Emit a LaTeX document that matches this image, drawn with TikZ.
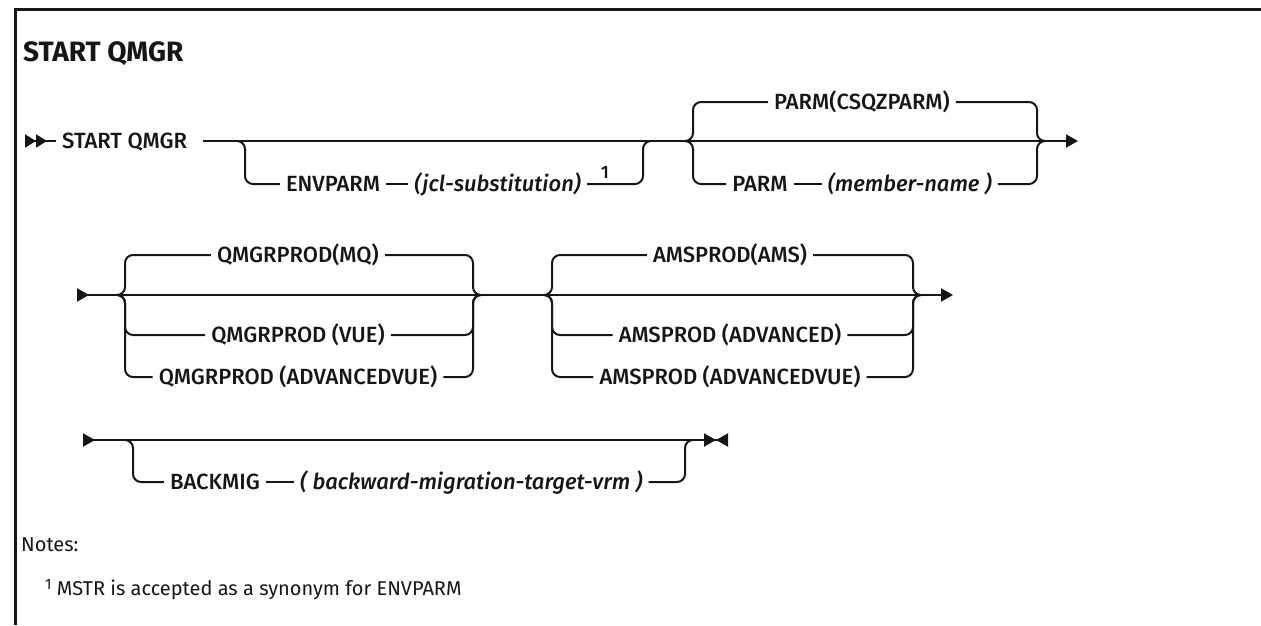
\documentclass[tikz,border=0pt]{standalone}
\usepackage{fontspec}
\setmainfont{Fira Sans}
\newfontfamily\railfont{Fira Sans Medium}[ItalicFont={Fira Sans Medium Italic}]
\newfontfamily\titlefont{Fira Sans Bold}
\usetikzlibrary{positioning, arrows.meta}
\definecolor{railInk}{RGB}{22, 22, 22}

\begin{document}
\begin{tikzpicture}[x=1pt, y=-1pt,
  rail/.style={draw=railInk, line width=2pt, rounded corners=8pt},
  kw/.style={font=\railfont\fontsize{22}{26}\selectfont, text=railInk,
    inner xsep=6pt, inner ysep=0pt, text height=15pt, text depth=0pt},
  var/.style={kw, font=\railfont\itshape\fontsize{22}{26}\selectfont},
  sup/.style={font=\railfont\fontsize{18}{20}\selectfont, text=railInk, inner sep=0pt},
  note/.style={font=\fontsize{20}{24}\selectfont, text=railInk, anchor=west, inner sep=0pt},
  tipR/.style={-{Triangle[length=12pt, width=13pt]}}]
  \useasboundingbox (0,0) rectangle (1261,625);
  \draw[line width=3pt, draw=railInk] (15,625) -- (15,9) -- (1261,9);
  \node[anchor=west, inner sep=0pt, text=railInk,
    font=\titlefont\fontsize{28}{32}\selectfont] (title) at (23,54) {START QMGR};

  \coordinate (r1s) at (25,141);
  \coordinate (r1e) at (1078,141);
  \node[kw, anchor=west] (start) at (56,141) {START QMGR};
  \draw[rail, {Triangle[reversed, length=11pt, width=13pt]Triangle[reversed, length=11pt, width=13pt]}-]
    (r1s) -- (start.west);
  \draw[rail, tipR] ([xshift=10pt]start.east) -- (r1e);

  \coordinate (eL) at (245,141);
  \coordinate (eR) at (643,141);
  \node[kw] (envparm) at (333,184) {ENVPARM};
  \node[var, right=22pt of envparm] (jcl) {(jcl-substitution)};
  \node[sup] (fn1) at (605,172) {1};
  \draw[rail] ([xshift=-8pt]eL) -| (eL |- envparm) -- (envparm);
  \draw[rail] (envparm) -- (jcl);
  \draw[rail] (jcl) -- (eR |- jcl) |- ([xshift=8pt]eR);

  \coordinate (pL) at (693,141);
  \coordinate (pR) at (1037,141);
  \node[kw] (csqz) at (862,102) {PARM(CSQZPARM)};
  \node[kw] (parm) at (760,184) {PARM};
  \node[var, right=28pt of parm] (member) {(member-name )};
  \draw[rail] ([xshift=-8pt]pL) -| (pL |- csqz) -- (csqz);
  \draw[rail] (csqz) -- (pR |- csqz) |- ([xshift=8pt]pR);
  \draw[rail] ([xshift=-8pt]pL) -| (pL |- parm) -- (parm);
  \draw[rail] (parm) -- (member);
  \draw[rail] (member) -- (pR |- member) |- ([xshift=8pt]pR);

  \coordinate (r2s) at (77,295);
  \coordinate (r2e) at (953,295);
  \draw[rail, {Triangle[reversed, length=12pt, width=13pt]}-{Triangle[length=12pt, width=13pt]}]
    (r2s) -- (r2e);
  \coordinate (qL) at (125,295);
  \coordinate (qR) at (473,295);
  \node[kw] (mq) at (298,255) {QMGRPROD(MQ)};
  \node[kw] (vue) at (298,335) {QMGRPROD (VUE)};
  \node[kw] (advq) at (298,377) {QMGRPROD (ADVANCEDVUE)};
  \coordinate (aL) at (552,295);
  \coordinate (aR) at (913,295);
  \node[kw] (ams) at (730,255) {AMSPROD(AMS)};
  \node[kw] (adva) at (730,335) {AMSPROD (ADVANCED)};
  \node[kw] (advav) at (730,377) {AMSPROD (ADVANCEDVUE)};
  \foreach \n in {mq, vue, advq} {
    \draw[rail] ([xshift=-8pt]qL) -| (qL |- \n) -- (\n);
    \draw[rail] (\n) -- (qR |- \n) |- ([xshift=8pt]qR);
  }
  \foreach \n in {ams, adva, advav} {
    \draw[rail] ([xshift=-8pt]aL) -| (aL |- \n) -- (\n);
    \draw[rail] (\n) -- (aR |- \n) |- ([xshift=8pt]aR);
  }

  \coordinate (r3s) at (83,440);
  \coordinate (r3e) at (728,440);
  \draw[rail, {Triangle[reversed, length=12pt, width=13pt]}-{Triangle[length=12pt, width=13pt]Triangle[reversed, length=12pt, width=13pt]}]
    (r3s) -- (r3e);
  \coordinate (bL) at (133,440);
  \coordinate (bR) at (685,440);
  \node[kw] (backmig) at (215,482) {BACKMIG};
  \node[var, right=28pt of backmig] (target) {( backward-migration-target-vrm )};
  \draw[rail] ([xshift=-8pt]bL) -| (bL |- backmig) -- (backmig);
  \draw[rail] (backmig) -- (target);
  \draw[rail] (target) -- (bR |- target) |- ([xshift=8pt]bR);

  \node[note] (notes) at (21,545) {Notes:};
  \node[note] (note1) at (45,590) {\raisebox{6pt}{\fontsize{15}{17}\selectfont 1} MSTR is accepted as a synonym for ENVPARM};
\end{tikzpicture}
\end{document}
